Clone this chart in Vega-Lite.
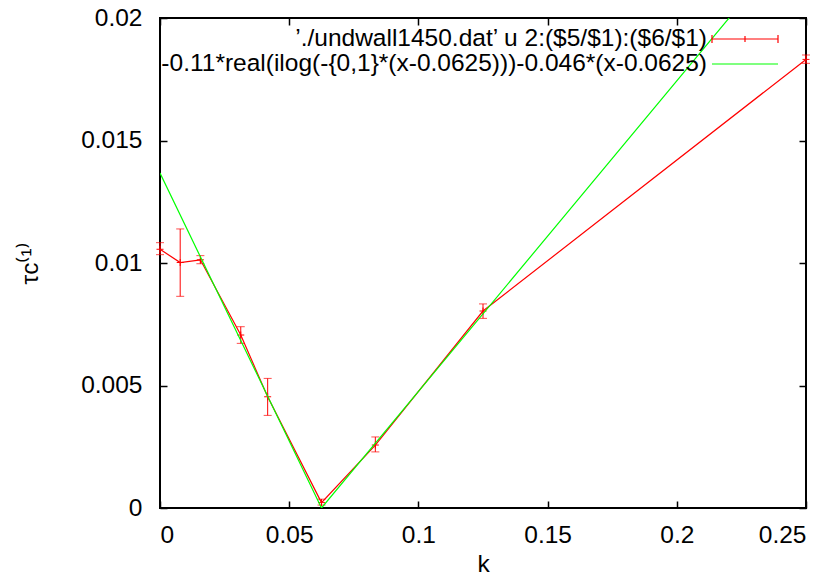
{
  "$schema": "https://vega.github.io/schema/vega-lite/v6.json",
  "width": 646,
  "height": 490,
  "autosize": {"type": "none"},
  "padding": {"left": 160, "top": 18, "right": 32, "bottom": 72},
  "background": "white",
  "config": {
    "font": "Liberation Sans",
    "view": {"stroke": "black", "strokeWidth": 2},
    "axis": {
      "grid": false,
      "domain": false,
      "ticks": true,
      "tickSize": -7,
      "tickColor": "black",
      "tickWidth": 1.5,
      "labelFont": "Liberation Sans",
      "labelFontSize": 24.5,
      "labelColor": "black",
      "titleFont": "Liberation Sans",
      "titleFontSize": 24.5,
      "titleFontWeight": "normal",
      "titleColor": "black"
    }
  },
  "datasets": {
    "measured": [
      {"k": 0, "tau": 0.01056, "lo": 0.01034, "hi": 0.01083, "series": "’./undwall1450.dat’ u 2:($5/$1):($6/$1)"},
      {"k": 0.0078125, "tau": 0.01002, "lo": 0.00864, "hi": 0.01139, "series": "’./undwall1450.dat’ u 2:($5/$1):($6/$1)"},
      {"k": 0.015625, "tau": 0.01013, "lo": 0.00997, "hi": 0.0103, "series": "’./undwall1450.dat’ u 2:($5/$1):($6/$1)"},
      {"k": 0.03125, "tau": 0.00706, "lo": 0.00672, "hi": 0.0074, "series": "’./undwall1450.dat’ u 2:($5/$1):($6/$1)"},
      {"k": 0.0416667, "tau": 0.00454, "lo": 0.00378, "hi": 0.00529, "series": "’./undwall1450.dat’ u 2:($5/$1):($6/$1)"},
      {"k": 0.0625, "tau": 0.00022, "lo": 0.00012, "hi": 0.00036, "series": "’./undwall1450.dat’ u 2:($5/$1):($6/$1)"},
      {"k": 0.0833333, "tau": 0.00257, "lo": 0.00229, "hi": 0.0029, "series": "’./undwall1450.dat’ u 2:($5/$1):($6/$1)"},
      {"k": 0.125, "tau": 0.00804, "lo": 0.00774, "hi": 0.00833, "series": "’./undwall1450.dat’ u 2:($5/$1):($6/$1)"},
      {"k": 0.25, "tau": 0.01831, "lo": 0.01815, "hi": 0.01849, "series": "’./undwall1450.dat’ u 2:($5/$1):($6/$1)"}
    ],
    "fit": [
      {"k": 0, "tau": 0.013673, "series": "-0.11*real(ilog(-{0,1}*(x-0.0625)))-0.046*(x-0.0625)"},
      {"k": 0.0625, "tau": 0, "series": "-0.11*real(ilog(-{0,1}*(x-0.0625)))-0.046*(x-0.0625)"},
      {"k": 0.25, "tau": 0.023775, "series": "-0.11*real(ilog(-{0,1}*(x-0.0625)))-0.046*(x-0.0625)"}
    ]
  },
  "layer": [
    {
      "data": {"name": "measured"},
      "encoding": {
        "x": {
          "field": "k",
          "type": "quantitative",
          "scale": {"domain": [0, 0.25], "nice": false, "zero": false},
          "axis": {
            "orient": "bottom",
            "values": [0, 0.05, 0.1, 0.15, 0.2, 0.25],
            "format": "~g",
            "labelPadding": 22,
            "title": "k",
            "titlePadding": 6
          }
        }
      },
      "layer": [
        {
          "mark": {"type": "rule", "color": "#ff0000", "strokeWidth": 1},
          "encoding": {
            "y": {
              "field": "lo",
              "type": "quantitative",
              "scale": {"domain": [0, 0.02], "nice": false, "zero": false},
              "axis": {
                "orient": "left",
                "values": [0, 0.005, 0.01, 0.015, 0.02],
                "format": "~g",
                "labelPadding": 25,
                "title": "τc⁽¹⁾",
                "titlePadding": 38
              }
            },
            "y2": {"field": "hi"}
          }
        },
        {
          "mark": {"type": "tick", "orient": "horizontal", "color": "#ff0000", "size": 8, "thickness": 1},
          "encoding": {"y": {"field": "lo", "type": "quantitative"}}
        },
        {
          "mark": {"type": "tick", "orient": "horizontal", "color": "#ff0000", "size": 8, "thickness": 1},
          "encoding": {"y": {"field": "hi", "type": "quantitative"}}
        },
        {
          "mark": {"type": "line", "strokeWidth": 1.2},
          "encoding": {
            "y": {"field": "tau", "type": "quantitative"},
            "color": {
              "field": "series",
              "type": "nominal",
              "scale": {
                "domain": [
                  "’./undwall1450.dat’ u 2:($5/$1):($6/$1)",
                  "-0.11*real(ilog(-{0,1}*(x-0.0625)))-0.046*(x-0.0625)"
                ],
                "range": ["#ff0000", "#00ff00"]
              },
              "legend": {
                "title": null,
                "orient": "none",
                "legendX": 572,
                "legendY": 8,
                "padding": 0,
                "rowPadding": 0,
                "symbolSize": 576,
                "symbolStrokeWidth": 1.2,
                "labelFont": "Liberation Sans",
                "labelFontSize": 24.5,
                "labelColor": "black",
                "labelAlign": "right",
                "labelOffset": -51,
                "labelLimit": 1000,
                "encode": {
                  "symbols": {
                    "update": {
                      "shape": {"signal": "indexof(datum.value, 'undwall') >= 0 ? 'M-2.75,0H2.75M-2.75,-0.33V0.33M2.75,-0.33V0.33M0,-0.25V0.25' : 'M-2.75,0H2.75'"},
                      "fill": {"value": "transparent"}
                    }
                  }
                }
              }
            }
          }
        },
        {
          "mark": {"type": "point", "shape": "M-1,0H1M0,-1V1", "size": 49, "filled": false, "color": "#ff0000", "strokeWidth": 1, "opacity": 1},
          "encoding": {"y": {"field": "tau", "type": "quantitative"}}
        }
      ]
    },
    {
      "data": {"name": "fit"},
      "mark": {"type": "line", "clip": true, "strokeWidth": 1.2},
      "encoding": {
        "x": {
          "field": "k",
          "type": "quantitative",
          "axis": {"orient": "top", "values": [0, 0.05, 0.1, 0.15, 0.2, 0.25], "labels": false, "title": null}
        },
        "y": {
          "field": "tau",
          "type": "quantitative",
          "axis": {"orient": "right", "values": [0, 0.005, 0.01, 0.015, 0.02], "labels": false, "title": null}
        },
        "color": {"field": "series", "type": "nominal"}
      }
    }
  ],
  "resolve": {"axis": {"x": "independent", "y": "independent"}}
}
